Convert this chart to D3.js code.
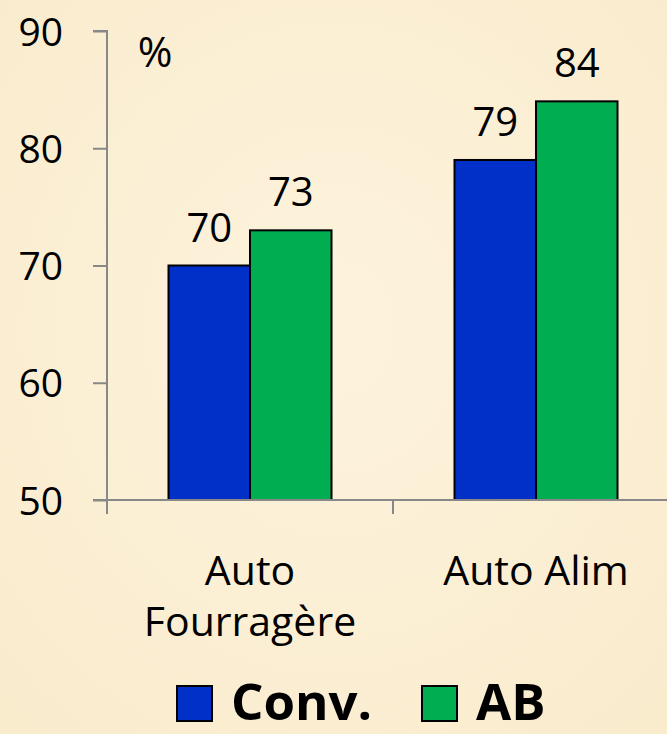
<!DOCTYPE html>
<html><head><meta charset="utf-8">
<script src="https://cdn.jsdelivr.net/npm/d3@7"></script>
<style>html,body{margin:0;padding:0;background:#fcf0d6;}svg{display:block;}</style>
</head><body>
<svg id="chart" width="667" height="734"></svg>
<script>
const categoryLines = [["Auto", "Fourragère"], ["Auto Alim"]];
const seriesNames = ["Conv.", "AB"];
const convValues = [70, 79];
const abValues = [73, 84];
const yTicks = [50, 60, 70, 80, 90];
const colors = ["#0030c8", "#00ad50"];

const svg = d3.select("#chart");
const W = 667, H = 734;
const defs = svg.append("defs");
const grad = defs.append("radialGradient").attr("id","bg").attr("cx","50%").attr("cy","45%").attr("r","75%");
grad.append("stop").attr("offset","0%").attr("stop-color","#fdf3dd");
grad.append("stop").attr("offset","100%").attr("stop-color","#f9ebcc");
svg.append("rect").attr("width",W).attr("height",H).attr("fill","url(#bg)");

const x0 = 107, plotRight = 679;
const x = d3.scaleBand().domain([0,1]).range([x0, plotRight]).paddingInner(0).paddingOuter(0);
const y = d3.scaleLinear().domain([50, 90]).range([500, 31]);
const inner = d3.scaleBand().domain([0,1]).range([0, 163]);
const groupOffset = (x.bandwidth() - 163) / 2;

const font = "'Open Sans', sans-serif";

const data = [convValues, abValues];
data.forEach((vals, s) => {
  svg.append("g").selectAll("rect").data(vals).join("rect")
    .attr("x", (d,i) => x(i) + groupOffset + inner(s))
    .attr("y", d => y(d))
    .attr("width", inner.bandwidth())
    .attr("height", d => y(50) - y(d))
    .attr("fill", colors[s])
    .attr("stroke", "#000").attr("stroke-width", 2);
  svg.append("g").selectAll("text").data(vals).join("text")
    .attr("x", (d,i) => x(i) + groupOffset + inner(s) + inner.bandwidth()/2)
    .attr("y", d => y(d) - 24)
    .attr("text-anchor", "middle")
    .attr("font-family", font).attr("font-size", 40).attr("fill", "#000")
    .text(d => d);
});

const yAxis = d3.axisLeft(y).tickValues(yTicks).tickSize(14).tickPadding(30);
const gy = svg.append("g").attr("transform", `translate(${x0},0)`).call(yAxis);
gy.select(".domain").attr("stroke", "#888").attr("stroke-width", 2).attr("d", `M-14,${y(90)}H0V${y(50)}`);
gy.selectAll(".tick line").attr("stroke", "#888").attr("stroke-width", 2);
gy.selectAll(".tick text").attr("font-family", font).attr("font-size", 39).attr("fill", "#000").attr("dy", "0.36em").attr("x", -44);

const gx = svg.append("g").attr("transform", `translate(0,${y(50)})`);
gx.append("line").attr("x1", x0 - 14).attr("x2", W).attr("y1", 0).attr("y2", 0).attr("stroke", "#888").attr("stroke-width", 2);
[x0, x(1), plotRight].forEach(px => {
  gx.append("line").attr("x1", px).attr("x2", px).attr("y1", 0).attr("y2", 14).attr("stroke", "#888").attr("stroke-width", 2);
});
categoryLines.forEach((lines, i) => {
  lines.forEach((ln, j) => {
    svg.append("text").attr("x", x(i) + x.bandwidth()/2).attr("y", 585 + j*51)
      .attr("text-anchor", "middle").attr("font-family", font).attr("font-size", 41).attr("fill", "#000").text(ln);
  });
});

svg.append("text").attr("x", 155).attr("y", 67).attr("text-anchor", "middle")
  .attr("font-family", font).attr("font-size", 42).attr("fill", "#000").text("%");

const legendX = [177, 422];
seriesNames.forEach((n, i) => {
  svg.append("rect").attr("x", legendX[i]).attr("y", 686).attr("width", 35).attr("height", 35)
    .attr("fill", colors[i]).attr("stroke", "#000").attr("stroke-width", 2);
  svg.append("text").attr("x", legendX[i] + 54).attr("y", 720)
    .attr("font-family", font).attr("font-weight", "bold").attr("font-size", 51).attr("fill", "#000").text(n);
});
</script>
</body></html>
